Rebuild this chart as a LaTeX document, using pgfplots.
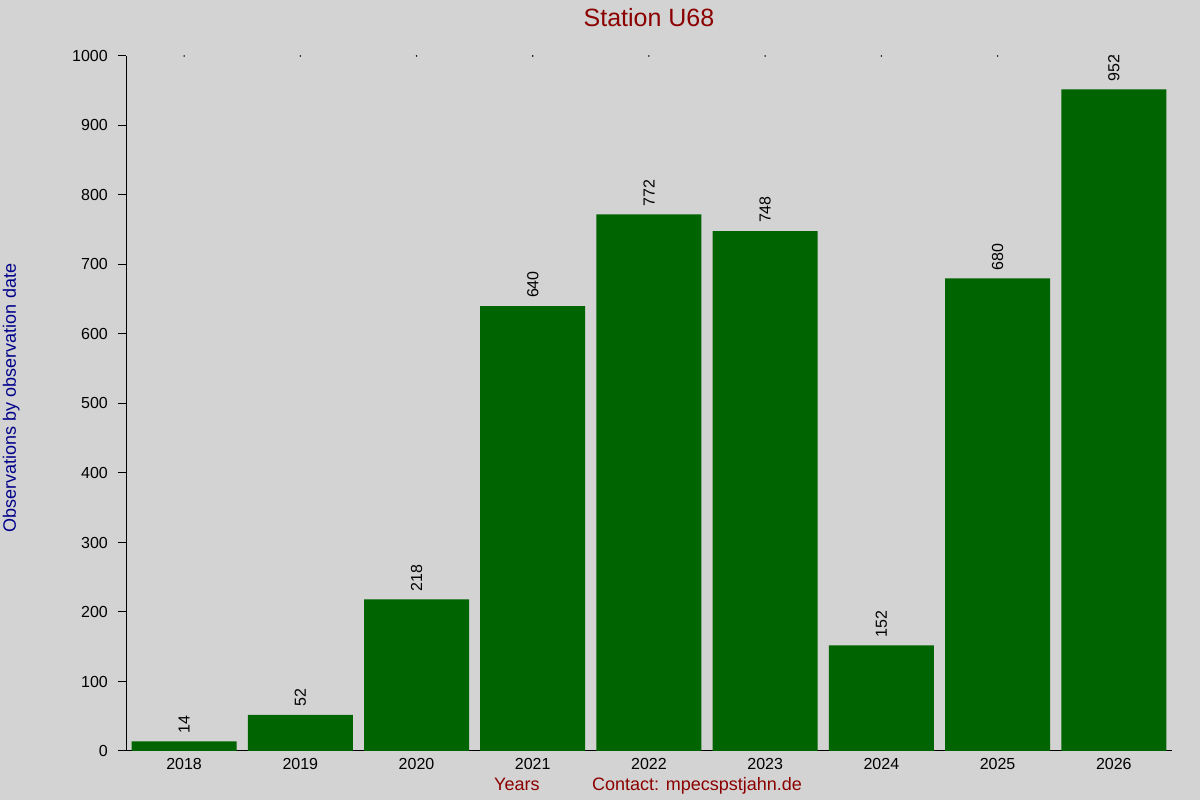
\documentclass[border=0pt]{standalone}
\usepackage{pgfplots}
\pgfplotsset{compat=1.18}
\usepackage{fontspec}
\setmainfont{Liberation Sans}
\definecolor{bg}{HTML}{D3D3D3}
\definecolor{bargreen}{HTML}{006400}
\definecolor{titlered}{HTML}{8B0000}
\definecolor{labelblue}{HTML}{00008B}
\begin{document}
\begin{tikzpicture}
\fill[bg] (0,0) rectangle (1200pt,800pt);
\path[use as bounding box] (0,0) rectangle (1200pt,800pt);
\begin{axis}[
  at={(126pt,49pt)}, anchor=south west,
  scale only axis, width=1046pt, height=695pt,
  xmin=-0.5, xmax=8.5, ymin=0, ymax=1000,
  axis x line*=bottom, axis y line*=left,
  axis line style={black, line width=1pt},
  xtick={0,...,8},
  xticklabels={2018,2019,2020,2021,2022,2023,2024,2025,2026},
  x tick style={draw=none},
  ytick={0,100,...,1000},
  y tick style={black, line width=1pt},
  tick align=outside, major tick length=8pt,
  /pgf/number format/assume math mode=true,
  /pgf/number format/1000 sep={},
  yticklabel style={font=\fontsize{16}{16}\selectfont, anchor=east, inner sep=0pt, xshift=-10pt},
  xticklabel style={font=\fontsize{16}{16}\selectfont, anchor=north, inner sep=0pt, yshift=1pt},
  clip=false,
]
\addplot[ybar, bar width=105pt, fill=bargreen, draw=none,
  nodes near coords,
  nodes near coords style={font=\fontsize{16}{16}\selectfont, black, rotate=90, anchor=west, inner xsep=8pt, inner ysep=0pt},
] coordinates {(0,14) (1,52) (2,218) (3,640) (4,772) (5,748) (6,152) (7,680) (8,952)};
\addplot[only marks, mark=*, mark size=0.5pt, black] coordinates {(0,1000) (1,1000) (2,1000) (3,1000) (4,1000) (5,1000) (6,1000) (7,1000) (8,1000)};
\end{axis}
\node[anchor=base, text=titlered, font=\fontsize{25}{25}\selectfont, inner sep=0pt] at (649pt,773pt) {Station U68};
\node[anchor=base west, text=titlered, font=\fontsize{18}{18}\selectfont, inner sep=0pt] at (494pt,9pt) {Years};
\node[anchor=base west, text=titlered, font=\fontsize{18}{18}\selectfont, inner sep=0pt] at (592pt,9pt) {Contact: mpecspstjahn.de};
\node[anchor=base, rotate=90, text=labelblue, font=\fontsize{18}{18}\selectfont, inner sep=0pt] at (16pt,402pt) {Observations by observation date};
\end{tikzpicture}
\end{document}
